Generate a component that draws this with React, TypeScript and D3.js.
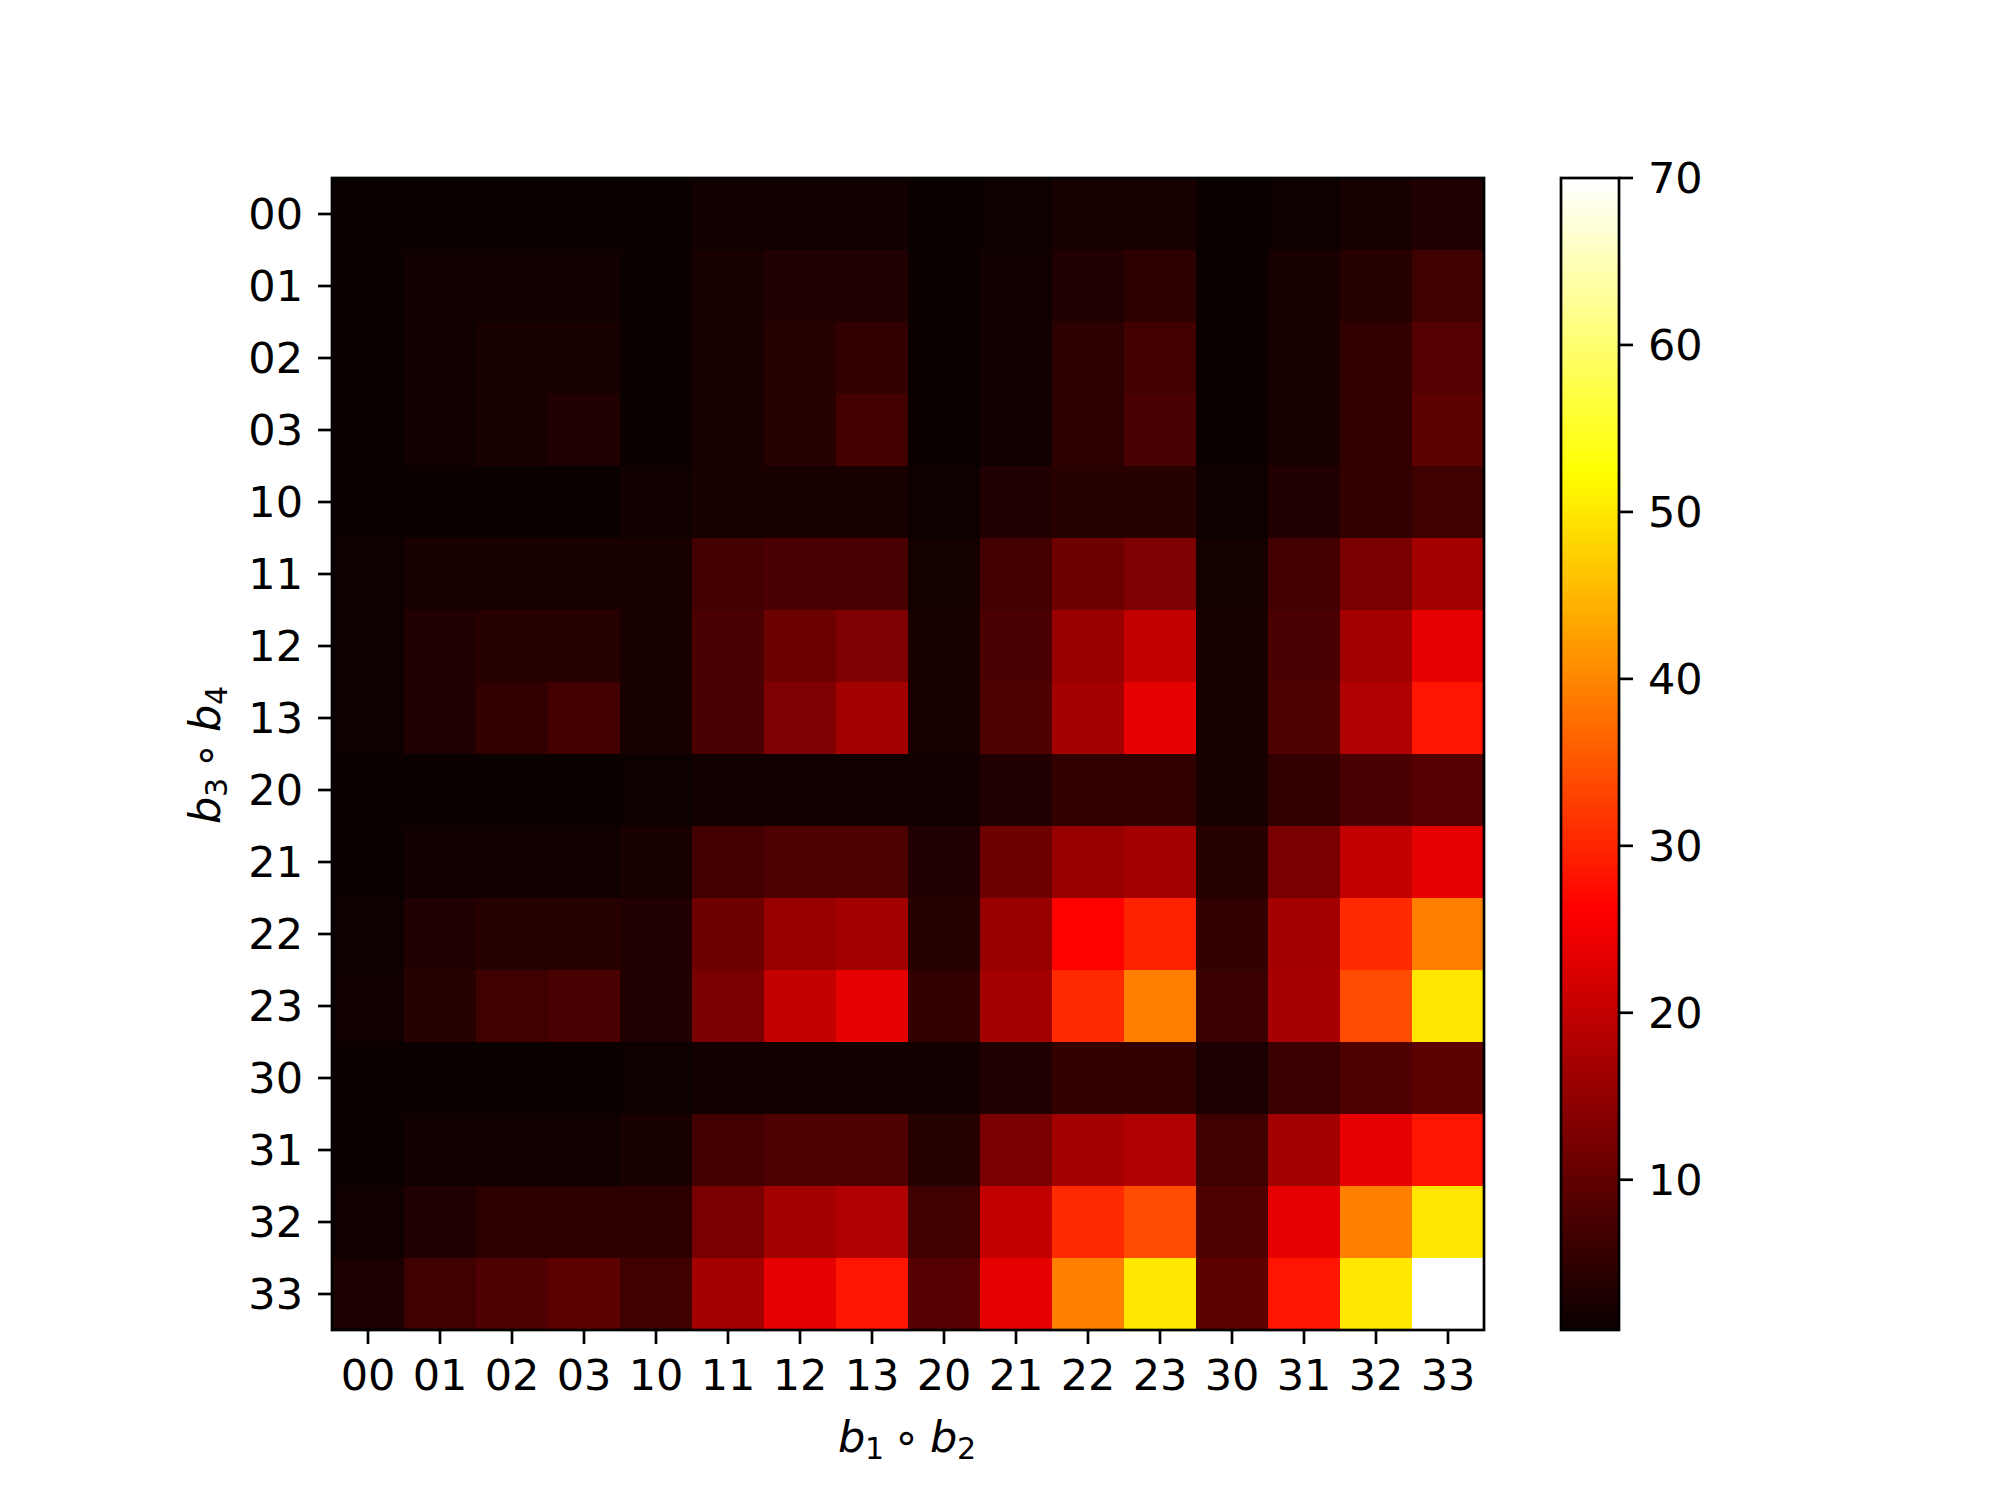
import React from "react";
import * as d3 from "d3";

const rowLabels = ["00","01","02","03","10","11","12","13","20","21","22","23","30","31","32","33"];
const colLabels = ["00","01","02","03","10","11","12","13","20","21","22","23","30","31","32","33"];
const colorbarTicks = [10, 20, 30, 40, 50, 60, 70];
const vMin = 1;
const vMax = 70;

const row00 = [1, 1, 1, 1, 1, 1.6, 1.6, 1.6, 1, 1.35, 2.5, 2.5, 1, 1.35, 2.5, 3.4];
const row01 = [1, 1.6, 1.6, 1.6, 1, 2.5, 3.4, 3.4, 1, 1.6, 3.4, 4.75, 1, 2.5, 4.0, 6.4];
const row02 = [1, 1.6, 2.5, 2.5, 1, 2.5, 4.0, 5.2, 1, 1.6, 4.75, 6.9, 1, 2.5, 5.2, 8.7];
const row03 = [1, 1.6, 2.5, 3.4, 1, 2.5, 4.2, 6.9, 1, 1.6, 4.75, 7.7, 1, 2.5, 5.2, 9.4];
const row10 = [1.2, 1, 1, 1, 1.6, 2.5, 2.5, 2.5, 1.35, 3.4, 4.2, 4.2, 1.35, 3.4, 5.2, 6.5];
const row11 = [1.35, 2.5, 2.5, 2.5, 2.5, 6.9, 7.7, 7.7, 2.2, 6.9, 11.5, 13, 2.2, 6.9, 12.5, 16.9];
const row12 = [1.35, 3.4, 4.2, 4.2, 2.5, 7.7, 11.5, 13, 2.5, 7.7, 15.7, 20, 2.5, 7.7, 16.9, 23.8];
const row13 = [1.35, 3.4, 5.2, 6.9, 2.5, 7.7, 13, 16.9, 2.5, 8.2, 16.9, 23.8, 2.5, 8.2, 18, 28.3];
const row20 = [1, 1, 1, 1, 1.35, 2, 2, 2, 2, 3.4, 5.2, 5.2, 2.5, 5.2, 7.7, 8.7];
const row21 = [1.1, 1.6, 1.6, 1.6, 2.5, 6.9, 8.2, 8.2, 3.4, 11.5, 15.7, 16.9, 4.2, 12.5, 20, 23.8];
const row22 = [1.35, 3.4, 4.2, 4.2, 3.4, 11.5, 15.7, 16.9, 4.2, 15.7, 26.5, 29.8, 5.2, 16.9, 30.5, 39.4];
const row23 = [1.6, 4.2, 6.5, 7.7, 3.4, 12.5, 20, 23.8, 5.2, 16.9, 30.5, 39.4, 5.9, 17.4, 34, 49.9];
const row30 = [1, 1, 1, 1, 1.35, 2, 2, 2, 2, 3.4, 5.2, 5.2, 2.8, 5.9, 8.2, 9.4];
const row31 = [1.1, 1.6, 1.6, 1.6, 2.5, 6.9, 8.2, 8.2, 4.2, 12.5, 16.9, 18, 6.4, 16.9, 23.8, 28.3];
const row32 = [1.6, 3.4, 4.75, 4.75, 4.75, 12.5, 16.9, 18, 6.4, 20, 30.5, 34, 8.2, 23.8, 39.4, 49.9];
const row33 = [2.8, 6.4, 8.2, 9.4, 6.4, 16.9, 23.8, 28.3, 8.7, 23.8, 39.4, 49.9, 9.4, 28.3, 49.9, 70];

const values = [row00, row01, row02, row03, row10, row11, row12, row13, row20, row21, row22, row23, row30, row31, row32, row33];

function hot(t: number): string {
  const i = Math.min(255, Math.max(0, Math.floor(t * 256)));
  const x = i / 255;
  const r = x < 0.365079 ? 0.0416 + (1 - 0.0416) * (x / 0.365079) : 1;
  const g = x < 0.365079 ? 0 : x < 0.746032 ? (x - 0.365079) / (0.746032 - 0.365079) : 1;
  const b = x < 0.746032 ? 0 : (x - 0.746032) / (1 - 0.746032);
  return d3.rgb(Math.round(r * 255), Math.round(g * 255), Math.round(b * 255)).formatHex();
}

const W = 1992;
const H = 1494;
const left = 332;
const right = 1484;
const top = 178;
const bottom = 1330;
const cbLeft = 1561;
const cbRight = 1619;
const FONT = "'DejaVu Sans', sans-serif";
const FS = 43;
const SUB = 30;
const LW = 2.7;
const TL = 14;

function MathLabel({ a, b }: { a: string; b: string }) {
  // pieces positioned relative to label centre (0,0) on the baseline
  return (
    <g fill="#000">
      <text x={-70} y={0} fontSize={FS} fontStyle="italic">b</text>
      <text x={-43} y={7} fontSize={SUB}>{a}</text>
      <text x={-1.5} y={0} fontSize={FS} textAnchor="middle">{"\u2218"}</text>
      <text x={22} y={0} fontSize={FS} fontStyle="italic">b</text>
      <text x={49} y={7} fontSize={SUB}>{b}</text>
    </g>
  );
}

export default function App() {
  const x = d3.scaleBand<string>().domain(colLabels).range([left, right]);
  const y = d3.scaleBand<string>().domain(rowLabels).range([top, bottom]);
  const norm = d3.scaleLinear().domain([vMin, vMax]).range([0, 1]).clamp(true);
  const cbY = d3.scaleLinear().domain([vMin, vMax]).range([bottom, top]);

  const nSteps = 256;
  const cbSteps = d3.range(nSteps);
  const stepH = (bottom - top) / nSteps;

  return (
    <svg width={W} height={H} style={{ position: "absolute", left: 0, top: 0, background: "#fff" }} fontFamily={FONT}>
      <rect x={0} y={0} width={W} height={H} fill="#fff" />
      <g shapeRendering="crispEdges">
        {values.map((row, ri) =>
          row.map((v, ci) => (
            <rect
              key={`${ri}-${ci}`}
              x={x(colLabels[ci])!}
              y={y(rowLabels[ri])!}
              width={x.bandwidth() + 0.6}
              height={y.bandwidth() + 0.6}
              fill={hot(norm(v))}
            />
          ))
        )}
      </g>
      <rect x={left} y={top} width={right - left} height={bottom - top} fill="none" stroke="#000" strokeWidth={LW} />
      {colLabels.map((c) => {
        const cx = x(c)! + x.bandwidth() / 2;
        return (
          <g key={"xt" + c}>
            <line x1={cx} x2={cx} y1={bottom} y2={bottom + TL} stroke="#000" strokeWidth={LW} />
            <text x={cx} y={bottom + TL + 15 + 31} fontSize={FS} textAnchor="middle" fill="#000">{c}</text>
          </g>
        );
      })}
      {rowLabels.map((r) => {
        const cy = y(r)! + y.bandwidth() / 2;
        return (
          <g key={"yt" + r}>
            <line x1={left - TL} x2={left} y1={cy} y2={cy} stroke="#000" strokeWidth={LW} />
            <text x={left - TL - 15} y={cy} dy="0.36em" fontSize={FS} textAnchor="end" fill="#000">{r}</text>
          </g>
        );
      })}
      <g transform={`translate(${(left + right) / 2}, 1452)`}>
        <MathLabel a="1" b="2" />
      </g>
      <g transform={`translate(220, ${(top + bottom) / 2}) rotate(-90)`}>
        <MathLabel a="3" b="4" />
      </g>
      <g shapeRendering="crispEdges">
        {cbSteps.map((i) => (
          <rect
            key={"cb" + i}
            x={cbLeft}
            y={bottom - (i + 1) * stepH}
            width={cbRight - cbLeft}
            height={stepH + 0.8}
            fill={hot((i + 0.5) / nSteps)}
          />
        ))}
      </g>
      <rect x={cbLeft} y={top} width={cbRight - cbLeft} height={bottom - top} fill="none" stroke="#000" strokeWidth={LW} />
      {colorbarTicks.map((t) => (
        <g key={"cbt" + t}>
          <line x1={cbRight} x2={cbRight + TL} y1={cbY(t)} y2={cbY(t)} stroke="#000" strokeWidth={LW} />
          <text x={cbRight + TL + 15} y={cbY(t)} dy="0.36em" fontSize={FS} textAnchor="start" fill="#000">{t}</text>
        </g>
      ))}
    </svg>
  );
}
